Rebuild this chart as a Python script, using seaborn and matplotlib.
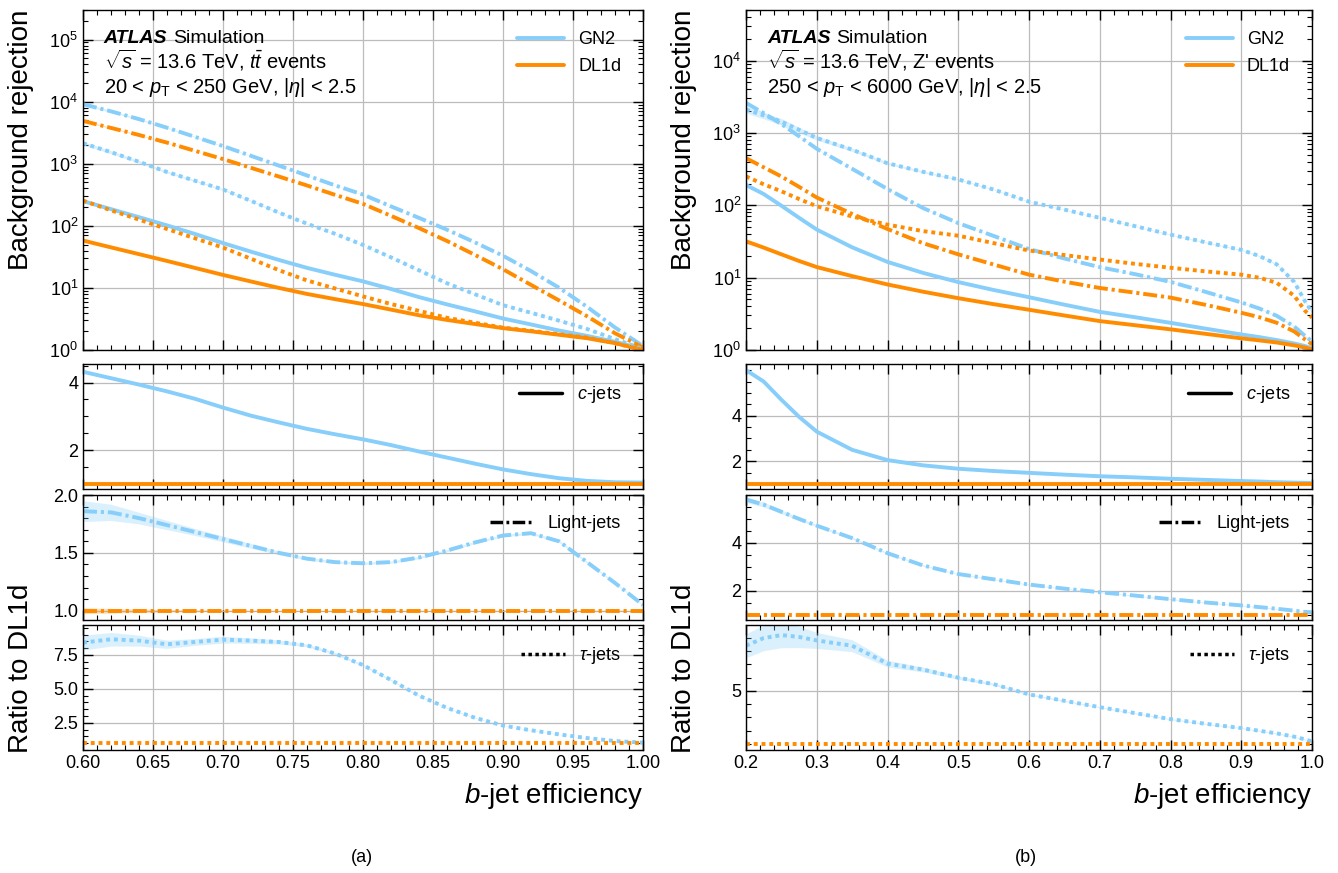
import numpy as np
import matplotlib
matplotlib.use("Agg")
import matplotlib.pyplot as plt
import seaborn as sns
from matplotlib.lines import Line2D
from matplotlib.ticker import MultipleLocator, FormatStrFormatter, LogLocator, NullFormatter

# ---------------- data ----------------
# (a) ttbar
eff_tt = [0.60, 0.62, 0.64, 0.66, 0.68, 0.70, 0.72, 0.74, 0.76, 0.78, 0.80,
          0.82, 0.84, 0.86, 0.88, 0.90, 0.92, 0.94, 0.96, 0.98, 1.00]
dl1d_c_tt = [58, 45, 35, 27.2, 21, 16.2, 12.7, 10.0, 8.0, 6.6, 5.5,
             4.47, 3.63, 3.05, 2.62, 2.25, 2.0, 1.76, 1.55, 1.29, 1.0]
dl1d_light_tt = [4900, 3780, 2910, 2190, 1615, 1190, 860, 622, 447, 316, 226,
                 145, 92, 57, 34, 20, 11.2, 6.3, 3.5, 1.86, 1.1]
dl1d_tau_tt = [255, 178, 126, 89, 63, 44.7, 29.5, 19.3, 13.2, 9.8, 7.3,
               5.5, 4.27, 3.3, 2.75, 2.29, 2.04, 1.8, 1.58, 1.29, 1.0]
ratio_c_tt = [4.32, 4.13, 3.94, 3.74, 3.52, 3.26, 3.02, 2.82, 2.63, 2.47, 2.32,
              2.15, 1.96, 1.78, 1.60, 1.43, 1.29, 1.17, 1.09, 1.05, 1.04]
ratio_light_tt = [1.86, 1.85, 1.80, 1.74, 1.68, 1.62, 1.56, 1.50, 1.45, 1.42, 1.41,
                  1.42, 1.46, 1.52, 1.59, 1.65, 1.67, 1.60, 1.42, 1.24, 1.05]
ratio_tau_tt = [8.4, 8.65, 8.55, 8.28, 8.45, 8.62, 8.55, 8.45, 8.2, 7.6, 6.75,
                5.65, 4.5, 3.6, 2.87, 2.3, 1.95, 1.65, 1.38, 1.16, 1.04]
band_c_tt = [0.0] * 21
band_light_tt = [0.09, 0.07, 0.05, 0.04, 0.03, 0.025, 0.02, 0.015, 0.012, 0.01, 0.01,
                 0.01, 0.01, 0.01, 0.01, 0.01, 0.01, 0.01, 0.008, 0.006, 0.005]
band_tau_tt = [0.55, 0.5, 0.4, 0.3, 0.25, 0.25, 0.2, 0.15, 0.1, 0.08, 0.06,
               0.05, 0.04, 0.03, 0.03, 0.02, 0.02, 0.02, 0.01, 0.01, 0.01]
band_dl1d_light_tt = [0.025, 0.02, 0.015, 0.01, 0.008, 0.006, 0.005, 0.005, 0.005, 0.005, 0.005,
                      0.005, 0.005, 0.005, 0.005, 0.005, 0.005, 0.005, 0.005, 0.005, 0.005]

# (b) Z'
eff_zp = [0.20, 0.225, 0.25, 0.275, 0.30, 0.35, 0.40, 0.45, 0.50, 0.55, 0.60,
          0.65, 0.70, 0.75, 0.80, 0.85, 0.90, 0.925, 0.95, 0.975, 0.99, 1.00]
dl1d_c_zp = [31.8, 26, 21, 17, 14, 10.5, 8.05, 6.4, 5.2, 4.3, 3.6,
             3.0, 2.51, 2.2, 1.93, 1.67, 1.45, 1.36, 1.27, 1.16, 1.08, 1.02]
dl1d_light_zp = [448, 335, 250, 180, 128, 76, 47, 30, 21, 15.2, 11,
                 8.8, 7.2, 6.2, 5.3, 4.2, 3.27, 2.85, 2.38, 1.8, 1.4, 1.2]
dl1d_tau_zp = [251, 195, 156, 122, 97, 70, 54, 44, 38, 30, 23.7,
               20.5, 17.8, 15.5, 13.7, 12.2, 11, 10, 8.5, 5.6, 3.5, 2.8]
ratio_c_zp = [6.0, 5.5, 4.7, 3.95, 3.3, 2.5, 2.05, 1.82, 1.67, 1.57, 1.49,
              1.41, 1.34, 1.29, 1.23, 1.18, 1.13, 1.11, 1.08, 1.06, 1.05, 1.04]
ratio_light_zp = [5.81, 5.6, 5.3, 5.0, 4.72, 4.2, 3.57, 3.06, 2.7, 2.48, 2.26,
                  2.09, 1.94, 1.8, 1.65, 1.51, 1.39, 1.32, 1.25, 1.17, 1.12, 1.1]
ratio_tau_zp = [8.39, 8.97, 9.19, 9.05, 8.79, 8.39, 7.05, 6.6, 5.99, 5.5, 4.73,
                4.25, 3.77, 3.32, 2.87, 2.52, 2.2, 2.0, 1.8, 1.55, 1.35, 1.19]
band_c_zp = [0.0] * 22
band_light_zp = [0.12, 0.1, 0.08, 0.06, 0.05, 0.04, 0.03, 0.03, 0.02, 0.02, 0.02,
                 0.02, 0.02, 0.02, 0.02, 0.02, 0.02, 0.02, 0.02, 0.02, 0.02, 0.02]
band_tau_zp = [0.9, 0.95, 0.95, 0.8, 0.6, 0.45, 0.25, 0.18, 0.12, 0.08, 0.06,
               0.05, 0.04, 0.04, 0.04, 0.04, 0.04, 0.04, 0.04, 0.04, 0.04, 0.04]
band_dl1d_zp = [0.0] * 22

# ---------------- style ----------------
GN2_COL = "#87cefa"
DL1D_COL = "#ff8c00"
LS = {"c": "-", "light": (0, (3.6, 1.0, 0.8, 1.0)), "tau": (0, (1.0, 1.0))}
LW = 2.8

sns.set_theme(style="ticks")
plt.rcParams.update({
    "font.family": ["Liberation Sans", "DejaVu Sans"],
    "mathtext.fontset": "custom",
    "mathtext.rm": "Liberation Sans",
    "mathtext.it": "Liberation Sans:italic",
    "mathtext.bf": "Liberation Sans:bold",
    "text.color": "black",
    "axes.labelcolor": "black",
    "axes.edgecolor": "black",
    "axes.linewidth": 1.0,
    "xtick.color": "black", "ytick.color": "black",
    "xtick.labelcolor": "black", "ytick.labelcolor": "black",
    "xtick.direction": "in", "ytick.direction": "in",
    "xtick.top": True, "ytick.right": True,
    "xtick.major.size": 7, "ytick.major.size": 7,
    "xtick.minor.size": 3.5, "ytick.minor.size": 3.5,
    "xtick.major.width": 1.0, "ytick.major.width": 1.0,
    "xtick.minor.width": 0.8, "ytick.minor.width": 0.8,
    "xtick.labelsize": 13, "ytick.labelsize": 13,
    "grid.color": "#bcbcbc", "grid.linewidth": 0.9,
})

W, H = 1338, 873
fig = plt.figure(figsize=(W / 100, H / 100), dpi=100)


def box(x0, x1, y0, y1):
    return [x0 / W, 1 - y1 / H, (x1 - x0) / W, (y1 - y0) / H]


rows = [(10, 350), (364, 489), (495, 620), (625, 750)]


def draw_column(col, eff, dl1d, ratios, bands, dl_bands, xlim, xmaj, xmin, xfmt,
                top_ylim, r_lims, r_ticks, r_minor, text_lines, ylab_x):
    axs = [fig.add_axes(box(col[0], col[1], r0, r1)) for r0, r1 in rows]
    top = axs[0]
    top.set_yscale("log")
    eff = np.array(eff)
    for i, fl in enumerate(["c", "light", "tau"]):
        dl = np.array(dl1d[i])
        rt = np.array(ratios[i])
        bd = np.array(bands[i])
        bdl = np.array(dl_bands[i])
        gn2 = dl * rt
        ls = LS[fl]
        # rejection
        top.fill_between(eff, gn2 * (1 - bd / rt), gn2 * (1 + bd / rt),
                         color=GN2_COL, alpha=0.3, lw=0)
        sns.lineplot(x=eff, y=gn2, ax=top, color=GN2_COL, lw=LW, linestyle=ls,
                     errorbar=None, sort=False)
        top.fill_between(eff, dl * (1 - bdl), dl * (1 + bdl), color=DL1D_COL, alpha=0.3, lw=0)
        sns.lineplot(x=eff, y=dl, ax=top, color=DL1D_COL, lw=LW, linestyle=ls,
                     errorbar=None, sort=False)
        # ratio to DL1d
        ax = axs[i + 1]
        ax.fill_between(eff, rt - bd, rt + bd, color=GN2_COL, alpha=0.3, lw=0)
        sns.lineplot(x=eff, y=rt, ax=ax, color=GN2_COL, lw=LW, linestyle=ls,
                     errorbar=None, sort=False)
        ax.fill_between(eff, 1 - bdl, 1 + bdl, color=DL1D_COL, alpha=0.3, lw=0)
        sns.lineplot(x=eff, y=dl / dl, ax=ax, color=DL1D_COL, lw=LW, linestyle=ls,
                     errorbar=None, sort=False)
        ax.set_ylim(*r_lims[i])
        ax.set_yticks(r_ticks[i])
        ax.yaxis.set_minor_locator(MultipleLocator(r_minor[i]))
        ax.yaxis.set_major_formatter(FormatStrFormatter(r_ticks[i + 3]))

    lab = {"c": "$c$-jets", "light": "Light-jets", "tau": r"$\tau$-jets"}
    for i, fl in enumerate(["c", "light", "tau"]):
        h = [Line2D([], [], color="black", lw=2.5, linestyle=LS[fl])]
        axs[i + 1].legend(h, [lab[fl]], loc="upper right", frameon=False, fontsize=13,
                          handlelength=2.4, handletextpad=0.8,
                          bbox_to_anchor=(0.99, 0.97))

    top.set_ylim(*top_ylim)
    top.yaxis.set_major_locator(LogLocator(base=10, numticks=12))
    top.yaxis.set_minor_locator(LogLocator(base=10, subs=np.arange(2, 10), numticks=100))
    top.yaxis.set_minor_formatter(NullFormatter())
    hd = [Line2D([], [], color=GN2_COL, lw=LW), Line2D([], [], color=DL1D_COL, lw=LW)]
    top.legend(hd, ["GN2", "DL1d"], loc="upper right", frameon=False, fontsize=13,
               handlelength=2.6, handletextpad=0.8, labelspacing=0.55,
               bbox_to_anchor=(0.99, 0.985))

    for k, ax in enumerate(axs):
        ax.set_xlim(*xlim)
        ax.xaxis.set_major_locator(MultipleLocator(xmaj))
        ax.xaxis.set_minor_locator(MultipleLocator(xmin))
        ax.xaxis.set_major_formatter(FormatStrFormatter(xfmt))
        ax.grid(True, which="major")
        ax.set_xlabel("")
        ax.set_ylabel("")
        ax.tick_params(which="both", direction="in", top=True, right=True)
        if k < 3:
            ax.tick_params(labelbottom=False)

    t = top.text(0.037, 0.903, "ATLAS", transform=top.transAxes, fontsize=14,
                 fontweight="bold", fontstyle="italic", va="baseline")
    top.annotate("Simulation", xy=(1, 0), xycoords=t, xytext=(4, 0),
                 textcoords="offset points", fontsize=14, va="bottom")
    top.text(0.037, 0.829, text_lines[0], transform=top.transAxes, fontsize=14.5, va="baseline")
    top.text(0.037, 0.756, text_lines[1], transform=top.transAxes, fontsize=14.5, va="baseline")

    fig.text(ylab_x / W, 1 - 10 / H, "Background rejection", rotation=90,
             ha="center", va="top", fontsize=20)
    fig.text(ylab_x / W, 1 - 668 / H, "Ratio to DL1d", rotation=90,
             ha="center", va="center", fontsize=20)
    fig.text(col[1] / W, 1 - 796 / H, "$b$-jet efficiency", ha="right",
             va="center", fontsize=20)
    return axs


draw_column((83, 643), eff_tt,
            [dl1d_c_tt, dl1d_light_tt, dl1d_tau_tt],
            [ratio_c_tt, ratio_light_tt, ratio_tau_tt],
            [band_c_tt, band_light_tt, band_tau_tt],
            [band_c_tt, band_dl1d_light_tt, band_c_tt],
            (0.6, 1.0), 0.05, 0.01, "%.2f", (1, 3e5),
            [(0.85, 4.55), (0.92, 2.0), (0.5, 9.7)],
            [[2, 4], [1.0, 1.5, 2.0], [2.5, 5.0, 7.5], "%g", "%.1f", "%.1f"],
            [0.5, 0.1, 0.5],
            [r"$\sqrt{s}$ = 13.6 TeV, $t\bar{t}$ events",
             r"20 < $p_{\mathrm{T}}$ < 250 GeV, $|\eta|$ < 2.5"], 21)

draw_column((746, 1312), eff_zp,
            [dl1d_c_zp, dl1d_light_zp, dl1d_tau_zp],
            [ratio_c_zp, ratio_light_zp, ratio_tau_zp],
            [band_c_zp, band_light_zp, band_tau_zp],
            [band_dl1d_zp, band_dl1d_zp, band_dl1d_zp],
            (0.2, 1.0), 0.1, 0.02, "%.1f", (1, 5e4),
            [(0.78, 6.27), (0.78, 6.0), (0.55, 9.95)],
            [[2, 4], [2, 4], [5], "%g", "%g", "%g"],
            [0.5, 0.5, 1.0],
            [r"$\sqrt{s}$ = 13.6 TeV, Z' events",
             r"250 < $p_{\mathrm{T}}$ < 6000 GeV, $|\eta|$ < 2.5"], 684)

fig.text(362 / W, 1 - 858 / H, "(a)", ha="center", va="center", fontsize=13)
fig.text(1026 / W, 1 - 858 / H, "(b)", ha="center", va="center", fontsize=13)

fig.savefig("out.png", dpi=100)
